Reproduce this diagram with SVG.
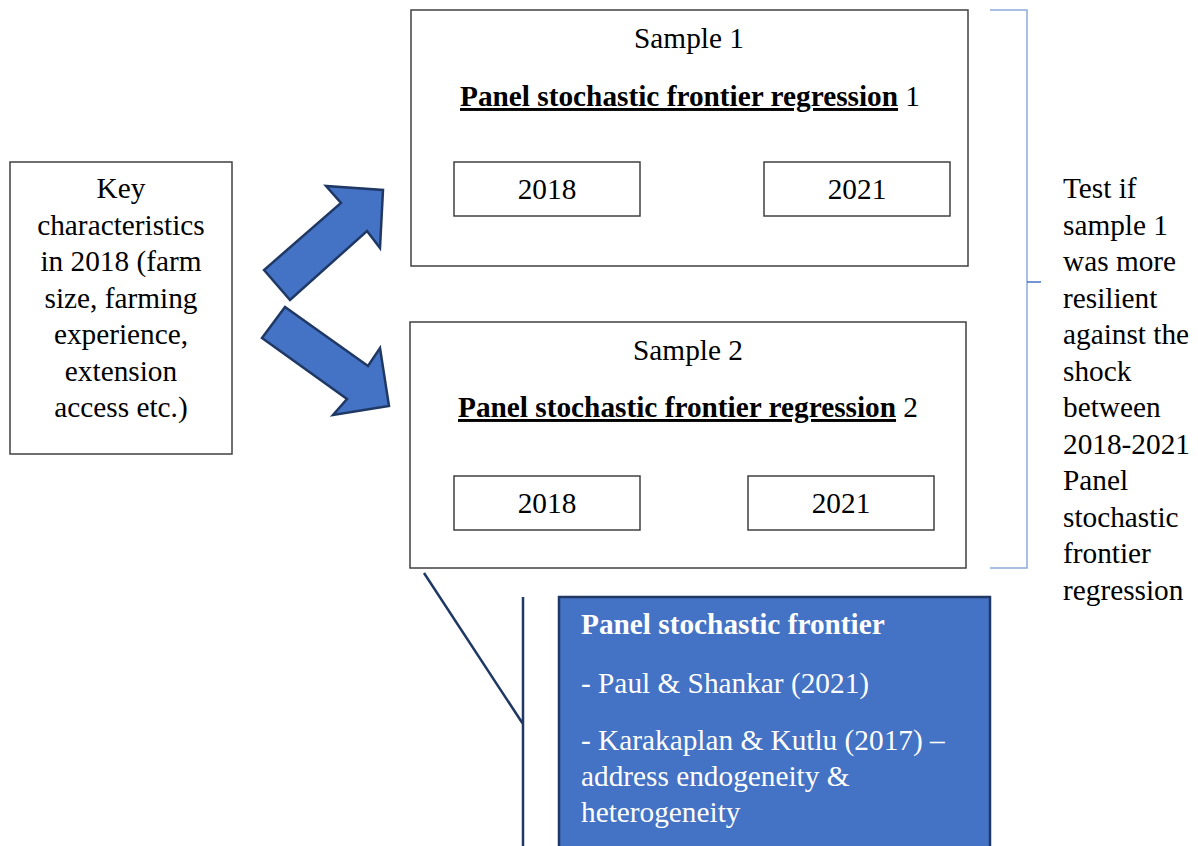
<svg xmlns="http://www.w3.org/2000/svg" width="1198" height="846" viewBox="0 0 1198 846">
<style>
.box{fill:#fff;stroke:#404040;stroke-width:1.5}
.c{text-anchor:middle}
.b{font-weight:bold}
.w{fill:#fff}
.arrow{fill:#4472c4;stroke:#1f3864;stroke-width:2.5;stroke-linejoin:miter}
</style>
<rect width="1198" height="846" fill="#fff"/>
<g font-family="Liberation Serif, Times New Roman, serif" font-size="29.3" fill="#000">
<g id="key">
<rect class="box" x="10" y="162" width="222" height="292"/>
<text class="c" x="121"><tspan x="121" y="198">Key</tspan><tspan x="121" y="235">characteristics</tspan><tspan x="121" y="271">in 2018 (farm</tspan><tspan x="121" y="308">size, farming</tspan><tspan x="121" y="344">experience,</tspan><tspan x="121" y="381">extension</tspan><tspan x="121" y="417">access etc.)</tspan></text>
</g>
<g id="sample1">
<rect class="box" x="411" y="10" width="557" height="256"/>
<text class="c" x="689" y="48">Sample 1</text>
<text x="460" y="106"><tspan class="b" text-decoration="underline">Panel stochastic frontier regression</tspan> 1</text>
<rect class="box" x="454" y="162" width="186" height="54"/>
<text class="c" x="547" y="199">2018</text>
<rect class="box" x="764" y="162" width="186" height="54"/>
<text class="c" x="857" y="199">2021</text>
</g>
<g id="sample2">
<rect class="box" x="410" y="322" width="556" height="246"/>
<text class="c" x="688" y="360">Sample 2</text>
<text x="458" y="417"><tspan class="b" text-decoration="underline">Panel stochastic frontier regression</tspan> 2</text>
<rect class="box" x="454" y="476" width="186" height="54"/>
<text class="c" x="547" y="513">2018</text>
<rect class="box" x="748" y="476" width="186" height="54"/>
<text class="c" x="841" y="513">2021</text>
</g>
<g id="test">
<text><tspan x="1063" y="198">Test if</tspan><tspan x="1063" y="235">sample 1</tspan><tspan x="1063" y="271">was more</tspan><tspan x="1063" y="308">resilient</tspan><tspan x="1063" y="344">against the</tspan><tspan x="1063" y="381">shock</tspan><tspan x="1063" y="417">between</tspan><tspan x="1063" y="454">2018-2021</tspan><tspan x="1063" y="490">Panel</tspan><tspan x="1063" y="527">stochastic</tspan><tspan x="1063" y="563">frontier</tspan><tspan x="1063" y="600">regression</tspan></text>
</g>
<g id="methods">
<rect x="559" y="597" width="431" height="260" fill="#4472c4" stroke="#1f3864" stroke-width="2.5"/>
<text class="w b" x="581" y="634">Panel stochastic frontier</text>
<text class="w" x="581" y="693">- Paul &amp; Shankar (2021)</text>
<text class="w"><tspan x="581" y="750">- Karakaplan &amp; Kutlu (2017) –</tspan><tspan x="581" y="786">address endogeneity &amp;</tspan><tspan x="581" y="822">heterogeneity</tspan></text>
</g>
</g>
<g id="connectors">
<polygon class="arrow" points="264,270 290,300 367,231 380,248 383,190 326,186 341,203"/>
<polygon class="arrow" points="285,307 262,338 347,399 333,415 389,406 380,348 368,366"/>
<path d="M990,10 H1027 V568 H990" fill="none" stroke="#8eaadb" stroke-width="1.5"/>
<path d="M1027,282 H1041" fill="none" stroke="#4472c4" stroke-width="1.5"/>
<path d="M424,573 L523,724 M523,597 V846" fill="none" stroke="#1f3864" stroke-width="2.5"/>
</g>
</svg>
